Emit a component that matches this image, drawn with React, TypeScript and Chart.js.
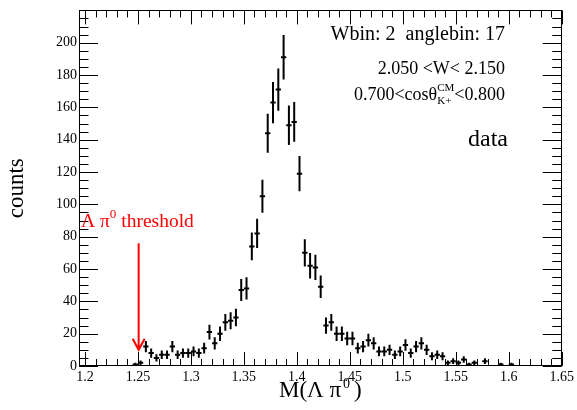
import React, { useEffect, useRef } from "react";
import { Chart, registerables } from "chart.js";

Chart.register(...registerables);

// ---- data ----
const BIN_CENTERS = [
  1.2475, 1.2525, 1.2575, 1.2625, 1.2675, 1.2725, 1.2775, 1.2825, 1.2875, 1.2925,
  1.2975, 1.3025, 1.3075, 1.3125, 1.3175, 1.3225, 1.3275, 1.3325, 1.3375, 1.3425,
  1.3475, 1.3525, 1.3575, 1.3625, 1.3675, 1.3725, 1.3775, 1.3825, 1.3875, 1.3925,
  1.3975, 1.4025, 1.4075, 1.4125, 1.4175, 1.4225, 1.4275, 1.4325, 1.4375, 1.4425,
  1.4475, 1.4525, 1.4575, 1.4625, 1.4675, 1.4725, 1.4775, 1.4825, 1.4875, 1.4925,
  1.4975, 1.5025, 1.5075, 1.5125, 1.5175, 1.5225, 1.5275, 1.5325, 1.5375, 1.5425,
  1.5475, 1.5525, 1.5575, 1.5625, 1.5675, 1.5775, 1.5925, 1.6025,
];
const COUNTS = [
  1, 2, 12, 8, 5, 7, 7, 12, 7, 8,
  8, 9, 8, 11, 21, 14, 20, 27, 28, 30,
  47, 48, 74, 82, 105, 144, 163, 171, 191, 149,
  151, 119, 70, 62, 61, 49, 25, 27, 20, 20,
  17, 17, 11, 12, 16, 14, 9, 9, 10, 7,
  9, 13, 8, 12, 14, 10, 6, 7, 6, 2,
  3, 2, 4, 1, 2, 3, 1, 1,
];
const BIN_WIDTH = 0.005;

const X_MIN = 1.1944;
const X_MAX = 1.65;
const Y_MIN = 0;
const Y_MAX = 220;
const X_TICKS = [1.2, 1.25, 1.3, 1.35, 1.4, 1.45, 1.5, 1.55, 1.6, 1.65];
const Y_TICKS = [0, 20, 40, 60, 80, 100, 120, 140, 160, 180, 200];

const THRESHOLD_X = 1.2507;
const ARROW_Y_TOP = 76;
const ARROW_Y_TIP = 10;

const INFO_LINE_1 = "Wbin: 2  anglebin: 17";
const INFO_LINE_2 = "2.050 <W< 2.150";
const INFO_LINE_3_PRE = "0.700<cosθ";
const INFO_LINE_3_SUP = "CM";
const INFO_LINE_3_SUB = "K+";
const INFO_LINE_3_POST = "<0.800";
const DATA_LABEL = "data";
const X_TITLE = "M(Λ π";
const Y_TITLE = "counts";

const FONT = "'Liberation Serif', 'Times New Roman', serif";

type Run = { t: string; size: number; dy?: number; gap?: number; pre?: number; sub?: string; subSize?: number; subDy?: number };

function runWidth(ctx: CanvasRenderingContext2D, r: Run) {
  ctx.font = `${r.size}px ${FONT}`;
  let rw = ctx.measureText(r.t).width;
  if (r.sub) {
    ctx.font = `${r.subSize}px ${FONT}`;
    rw = Math.max(rw, ctx.measureText(r.sub).width);
  }
  return rw + (r.gap || 0) + (r.pre || 0);
}

function drawRuns(
  ctx: CanvasRenderingContext2D,
  runs: Run[],
  x: number,
  baseline: number,
  align: "left" | "right" | "center",
  color: string
) {
  let total = 0;
  for (const r of runs) total += runWidth(ctx, r);
  let cx = align === "left" ? x : align === "right" ? x - total : x - total / 2;
  ctx.fillStyle = color;
  ctx.textAlign = "left";
  ctx.textBaseline = "alphabetic";
  for (const r of runs) {
    const w = runWidth(ctx, r);
    const sx = cx + (r.pre || 0);
    ctx.font = `${r.size}px ${FONT}`;
    ctx.fillText(r.t, sx, baseline + (r.dy || 0));
    if (r.sub) {
      ctx.font = `${r.subSize}px ${FONT}`;
      ctx.fillText(r.sub, sx, baseline + (r.subDy || 0));
    }
    cx += w;
  }
}

const rootPlugin = {
  id: "rootStyle",
  afterDatasetsDraw(chart: any) {
    const { ctx, chartArea: a, scales } = chart;
    const xs = scales.x;
    const ys = scales.y;
    ctx.save();
    ctx.beginPath();
    ctx.rect(a.left, a.top, a.right - a.left, a.bottom - a.top);
    ctx.clip();
    ctx.strokeStyle = "#000";
    ctx.lineWidth = 2;
    ctx.lineCap = "butt";
    for (let i = 0; i < BIN_CENTERS.length; i++) {
      const c = BIN_CENTERS[i];
      const n = COUNTS[i];
      const e = Math.sqrt(n);
      const px = xs.getPixelForValue(c);
      const py = ys.getPixelForValue(n);
      const xl = xs.getPixelForValue(c - BIN_WIDTH / 2);
      const xr = xs.getPixelForValue(c + BIN_WIDTH / 2);
      const yt = ys.getPixelForValue(n + e);
      const yb = ys.getPixelForValue(Math.max(0, n - e));
      ctx.beginPath();
      ctx.moveTo(px, yt);
      ctx.lineTo(px, yb);
      ctx.moveTo(xl, py);
      ctx.lineTo(xr, py);
      ctx.stroke();
    }
    ctx.restore();
  },
  afterDraw(chart: any) {
    const { ctx, chartArea: a, scales } = chart;
    const xs = scales.x;
    const ys = scales.y;
    ctx.save();
    // frame
    ctx.strokeStyle = "#000";
    ctx.lineWidth = 1;
    ctx.strokeRect(Math.round(a.left) + 0.5, Math.round(a.top) + 0.5, Math.round(a.right - a.left) - 1, Math.round(a.bottom - a.top) - 1);
    // y ticks (left and right, inside)
    ctx.beginPath();
    for (let v = Y_MIN; v <= Y_MAX; v += 5) {
      const py = Math.round(ys.getPixelForValue(v)) + 0.5;
      const len = v % 20 === 0 ? 19 : 9.5;
      ctx.moveTo(a.left, py);
      ctx.lineTo(a.left + len, py);
      ctx.moveTo(a.right, py);
      ctx.lineTo(a.right - len, py);
    }
    // x ticks (bottom and top, inside)
    for (let k = 120; k <= 165; k++) {
      const v = k / 100;
      const px = Math.round(xs.getPixelForValue(v)) + 0.5;
      const len = k % 5 === 0 ? 14 : 7;
      ctx.moveTo(px, a.bottom);
      ctx.lineTo(px, a.bottom - len);
      ctx.moveTo(px, a.top);
      ctx.lineTo(px, a.top + len);
    }
    ctx.stroke();

    // threshold arrow
    const ax = xs.getPixelForValue(THRESHOLD_X);
    const ayTop = ys.getPixelForValue(ARROW_Y_TOP);
    const ayTip = ys.getPixelForValue(ARROW_Y_TIP);
    ctx.strokeStyle = "#ff0000";
    ctx.lineWidth = 2;
    ctx.beginPath();
    ctx.moveTo(ax, ayTop);
    ctx.lineTo(ax, ayTip);
    ctx.moveTo(ax - 6, ayTip - 11);
    ctx.lineTo(ax, ayTip);
    ctx.lineTo(ax + 6, ayTip - 11);
    ctx.stroke();

    // threshold text
    drawRuns(
      ctx,
      [
        { t: "Λ π", size: 19.5 },
        { t: "0", size: 13, dy: -9 },
        { t: " threshold", size: 19.5 },
      ],
      81,
      227,
      "left",
      "#ff0000"
    );

    // info text
    drawRuns(ctx, [{ t: INFO_LINE_1, size: 20 }], 505, 40, "right", "#000");
    drawRuns(ctx, [{ t: INFO_LINE_2, size: 18 }], 505, 74, "right", "#000");
    drawRuns(
      ctx,
      [
        { t: INFO_LINE_3_PRE, size: 18 },
        { t: INFO_LINE_3_SUP, size: 11, dy: -9, sub: INFO_LINE_3_SUB, subSize: 11, subDy: 4 },
        { t: INFO_LINE_3_POST, size: 18 },
      ],
      505,
      100,
      "right",
      "#000"
    );
    drawRuns(ctx, [{ t: DATA_LABEL, size: 24 }], 508, 146, "right", "#000");

    // x title
    drawRuns(
      ctx,
      [
        { t: X_TITLE, size: 23 },
        { t: "0", size: 14, dy: -9, pre: 2, gap: 4 },
        { t: ")", size: 23 },
      ],
      (a.left + a.right) / 2,
      397,
      "center",
      "#000"
    );

    // y title
    ctx.save();
    ctx.translate(23, (a.top + a.bottom) / 2);
    ctx.rotate(-Math.PI / 2);
    ctx.font = `23px ${FONT}`;
    ctx.fillStyle = "#000";
    ctx.textAlign = "center";
    ctx.textBaseline = "alphabetic";
    ctx.fillText(Y_TITLE, 0, 0);
    ctx.restore();

    ctx.restore();
  },
};

export default function App() {
  const canvasRef = useRef<HTMLCanvasElement | null>(null);

  useEffect(() => {
    document.body.style.margin = "0";
    const canvas = canvasRef.current;
    if (!canvas) return;
    const chart = new Chart(canvas, {
      type: "scatter",
      data: {
        datasets: [
          {
            label: "data",
            data: BIN_CENTERS.map((c, i) => ({ x: c, y: COUNTS[i] })),
            pointRadius: 0,
            pointHoverRadius: 0,
            showLine: false,
          },
        ],
      },
      options: {
        responsive: false,
        animation: false,
        devicePixelRatio: 1,
        events: [],
        layout: { padding: { top: 8, right: 13.5, left: 0, bottom: 0 } },
        plugins: {
          legend: { display: false },
          tooltip: { enabled: false },
          title: { display: false },
        },
        scales: {
          x: {
            type: "linear",
            min: X_MIN,
            max: X_MAX,
            afterBuildTicks: (s: any) => {
              s.ticks = X_TICKS.map((v) => ({ value: v }));
            },
            afterFit: (s: any) => {
              s.height = 44;
            },
            grid: { display: false, drawTicks: false },
            border: { display: false },
            ticks: {
              autoSkip: false,
              maxRotation: 0,
              padding: 3,
              color: "#000",
              font: { family: FONT, size: 14 },
              callback: (v: any) => String(Number(Number(v).toFixed(2))),
            },
          },
          y: {
            type: "linear",
            min: Y_MIN,
            max: Y_MAX,
            afterBuildTicks: (s: any) => {
              s.ticks = Y_TICKS.map((v) => ({ value: v }));
            },
            afterFit: (s: any) => {
              s.width = 79;
            },
            grid: { display: false, drawTicks: false },
            border: { display: false },
            ticks: {
              autoSkip: false,
              padding: 2,
              color: "#000",
              font: { family: FONT, size: 14 },
              callback: (v: any) => String(v),
            },
          },
        },
      },
      plugins: [rootPlugin],
    });
    return () => chart.destroy();
  }, []);

  return (
    <div style={{ width: 577, height: 410, background: "#fff" }}>
      <canvas ref={canvasRef} width={577} height={410} style={{ display: "block" }} />
    </div>
  );
}
